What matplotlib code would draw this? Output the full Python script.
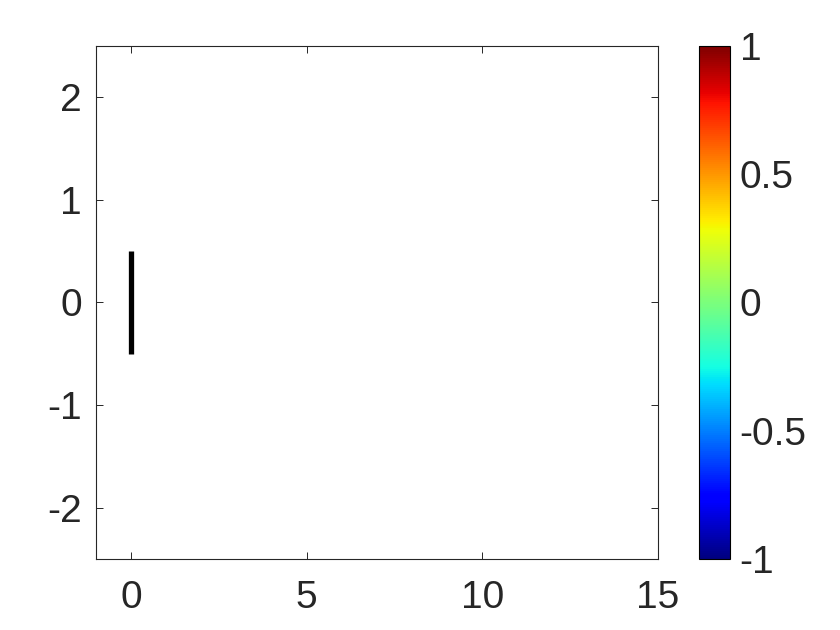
import numpy as np
import matplotlib.pyplot as plt
import matplotlib as mpl

plt.rcParams['font.family'] = ['Liberation Sans', 'DejaVu Sans']

# data
seg_x = [0, 0]
seg_y = [-0.5, 0.5]
xticks = [0, 5, 10, 15]
yticks = [-2, -1, 0, 1, 2]
cbar_ticks = [-1, -0.5, 0, 0.5, 1]
cbar_labels = ["-1", "-0.5", "0", "0.5", "1"]

fig = plt.figure(figsize=(8.4, 6.3), dpi=100)
ax = fig.add_axes([0.1143, 0.1127, 0.669, 0.8143])
ax.plot(seg_x, seg_y, color="black", linewidth=3.8, solid_capstyle="butt")

ax.set_xlim(-1, 15)
ax.set_ylim(-2.5, 2.5)
ax.set_xticks(xticks)
ax.set_yticks(yticks)
ax.set_xticklabels([str(t) for t in xticks])
ax.set_yticklabels([str(t) for t in yticks])
ax.tick_params(direction="in", length=5, width=0.7, top=True, right=True,
               labelsize=28, labelcolor="#262626", color="#262626")
ax.tick_params(axis="x", pad=15)
ax.tick_params(axis="y", pad=10)
for s in ax.spines.values():
    s.set_linewidth(0.8)
    s.set_color("#262626")

cax = fig.add_axes([0.832, 0.1127, 0.037, 0.8143])
norm = mpl.colors.Normalize(vmin=-1, vmax=1)
cb = fig.colorbar(mpl.cm.ScalarMappable(norm=norm, cmap="jet"), cax=cax)
cb.set_ticks(cbar_ticks)
cb.set_ticklabels(cbar_labels)
cb.outline.set_linewidth(0.8)
cax.tick_params(direction="in", length=0, labelsize=28, labelcolor="#262626", pad=7)

fig.savefig("out.png", dpi=100)
